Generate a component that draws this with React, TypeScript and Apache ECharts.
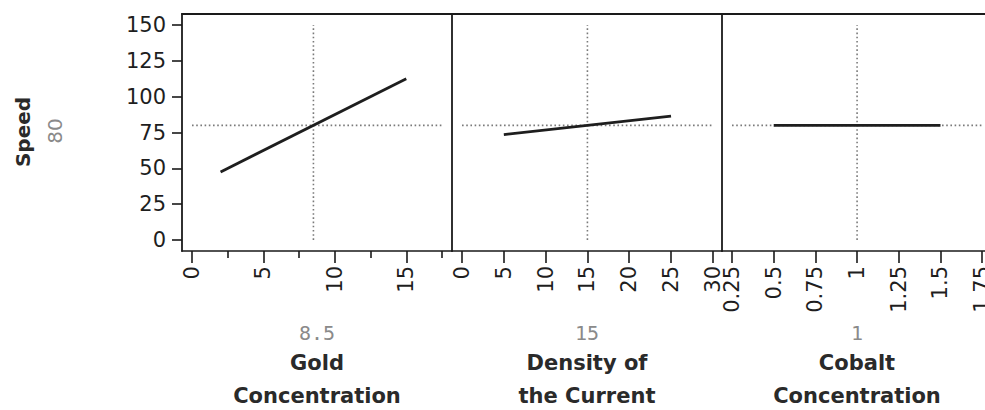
import React, { useEffect, useRef } from "react";
import * as echarts from "echarts";

// ---- data ----
const yTicks = [0, 25, 50, 75, 100, 125, 150];
const predictedSpeed = 80;
const responseName = "Speed";

const factorNames = ["Gold\nConcentration", "Density of\nthe Current", "Cobalt\nConcentration"];
const factorCurrent = [8.5, 15, 1];
const factorCurrentText = ["8.5", "15", "1"];

const goldX = [2, 15];
const goldY = [47.5, 112.5];
const densityX = [5, 25];
const densityY = [73.5, 86.5];
const cobaltX = [0.5, 1.5];
const cobaltY = [80, 80];

const goldTicks = [0, 5, 10, 15];
const goldMinorTicks = [2.5, 7.5, 12.5, 17.5];
const densityTicks = [0, 5, 10, 15, 20, 25, 30];
const cobaltTicks = [0.25, 0.5, 0.75, 1, 1.25, 1.5, 1.75];

const xRanges = [
  [-0.7, 18.2],
  [-1.2, 31.1],
  [0.19, 1.767],
];
const yRange = [-7.7, 157.7];
const refXSpan = [
  [0, 17.5],
  [0, 30],
  [0.25, 1.75],
];

export default function App() {
  const ref = useRef<HTMLDivElement>(null);
  useEffect(() => {
    if (!ref.current) return;
    const chart = echarts.init(ref.current, undefined, { renderer: "svg" });
    const panelLeft = [182, 452, 722];
    const panelWidths = [270, 270, 263];
    const top = 14;
    const h = 237;
    const font = "DejaVu Sans";
    const labelColor = "#1e1e1e";
    const axisColor = "#1a1a1a";

    const grids = panelLeft.map((l, i) => ({
      left: l,
      top,
      width: panelWidths[i],
      height: h,
      show: false,
      containLabel: false,
      outerBoundsMode: "none",
    }));

    const tickSets = [goldTicks, densityTicks, cobaltTicks];
    const xAxes: any[] = tickSets.map((ticks, i) => ({
      type: "value",
      gridIndex: i,
      position: "bottom",
      min: xRanges[i][0],
      max: xRanges[i][1],
      splitLine: { show: false },
      axisLine: { show: true, onZero: false, lineStyle: { color: axisColor, width: 1.6 } },
      axisTick: {
        show: true,
        customValues: ticks,
        length: 12,
        lineStyle: { color: axisColor, width: 1.6 },
      },
      axisLabel: {
        customValues: ticks,
        rotate: 90,
        margin: 15,
        fontFamily: font,
        fontSize: 21,
        color: labelColor,
      },
    }));
    xAxes.push({
      type: "value",
      gridIndex: 0,
      position: "bottom",
      min: xRanges[0][0],
      max: xRanges[0][1],
      splitLine: { show: false },
      axisLine: { show: false, onZero: false },
      axisLabel: { show: false },
      axisTick: {
        show: true,
        customValues: goldMinorTicks,
        length: 7,
        lineStyle: { color: axisColor, width: 1.6 },
      },
    });
    [0, 1, 2].forEach((i) => {
      xAxes.push({
        type: "value",
        gridIndex: i,
        position: "top",
        min: xRanges[i][0],
        max: xRanges[i][1],
        splitLine: { show: false },
        axisLine: { show: true, onZero: false, lineStyle: { color: axisColor, width: 2 } },
        axisTick: { show: false },
        axisLabel: { show: false },
      });
    });

    const yAxes = [0, 1, 2].map((i) => ({
      type: "value",
      gridIndex: i,
      min: yRange[0],
      max: yRange[1],
      splitLine: { show: false },
      axisLine: { show: true, onZero: false, lineStyle: { color: axisColor, width: 1.8 } },
      axisTick: {
        show: i === 0,
        customValues: yTicks,
        length: 10,
        lineStyle: { color: axisColor, width: 1.6 },
      },
      axisLabel: {
        show: i === 0,
        customValues: yTicks,
        margin: 16,
        fontFamily: font,
        fontSize: 21,
        color: labelColor,
      },
    }));

    const profiles = [
      { x: goldX, y: goldY },
      { x: densityX, y: densityY },
      { x: cobaltX, y: cobaltY },
    ];

    const series: any[] = [];
    profiles.forEach((p, i) => {
      const dotted = { color: "#7a7a7a", width: 1.6, type: [1.6, 2.6] };
      series.push({
        type: "line",
        xAxisIndex: i,
        yAxisIndex: i,
        data: [
          [refXSpan[i][0], predictedSpeed],
          [refXSpan[i][1], predictedSpeed],
        ],
        symbol: "none",
        lineStyle: dotted,
        z: 1,
        silent: true,
      });
      series.push({
        type: "line",
        xAxisIndex: i,
        yAxisIndex: i,
        data: [
          [factorCurrent[i], yTicks[0]],
          [factorCurrent[i], yTicks[yTicks.length - 1]],
        ],
        symbol: "none",
        lineStyle: dotted,
        z: 1,
        silent: true,
      });
      series.push({
        type: "line",
        xAxisIndex: i,
        yAxisIndex: i,
        data: p.x.map((x, k) => [x, p.y[k]]),
        symbol: "none",
        lineStyle: { color: "#1e1e1e", width: 2.8 },
        z: 3,
      });
    });

    const graphic: any[] = [
      {
        type: "text",
        x: 23,
        y: 132,
        rotation: Math.PI / 2,
        style: {
          text: responseName,
          font: `bold 20px ${font}`,
          fill: "#2a2a2a",
          textAlign: "center",
          textVerticalAlign: "middle",
        },
      },
      {
        type: "text",
        x: 55,
        y: 131,
        rotation: Math.PI / 2,
        style: {
          text: String(predictedSpeed),
          font: `20px ${font}`,
          fill: "#8a8a8a",
          textAlign: "center",
          textVerticalAlign: "middle",
        },
      },
    ];
    panelLeft.forEach((l, i) => {
      const cx = l + 135;
      graphic.push({
        type: "text",
        x: cx,
        y: 333,
        style: {
          text: factorCurrentText[i],
          font: `20px DejaVu Sans Mono`,
          fill: "#8a8a8a",
          textAlign: "center",
          textVerticalAlign: "middle",
        },
      });
      graphic.push({
        type: "text",
        x: cx,
        y: 379,
        style: {
          text: factorNames[i],
          font: `bold 21px ${font}`,
          lineHeight: 33,
          fill: "#2a2a2a",
          textAlign: "center",
          textVerticalAlign: "middle",
        },
      });
    });

    chart.setOption({
      animation: false,
      backgroundColor: "#fff",
      grid: grids,
      xAxis: xAxes,
      yAxis: yAxes,
      series,
      graphic,
    });
    return () => chart.dispose();
  }, []);
  return (
    <div
      ref={ref}
      style={{ position: "fixed", left: 0, top: 0, width: 985, height: 410 }}
    />
  );
}
